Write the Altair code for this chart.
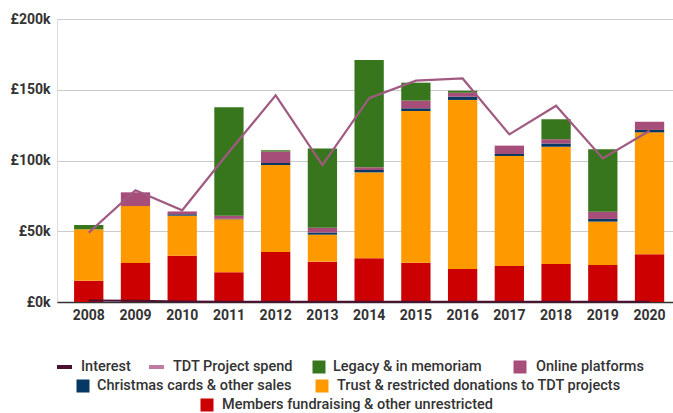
import altair as alt
import pandas as pd

years = [str(y) for y in range(2008, 2021)]

# values in £k
members = [15, 27.6, 32.7, 21, 35.3, 28.5, 30.9, 27.8, 23.3, 25.4, 26.9, 26.1, 33.7]
trust = [36.4, 40.2, 28.3, 37.4, 61.5, 19.1, 60.7, 107.2, 119.5, 77.8, 82.9, 30.7, 86.2]
christmas = [0, 0, 1, 0.5, 1.5, 1.5, 1.7, 1.9, 2.3, 1.4, 2.3, 1.9, 1.7]
online = [0, 9.7, 2, 2, 8, 3.4, 1.9, 5.4, 2.8, 5.9, 2.9, 5.1, 5.8]
legacy = [3, 0, 0, 76.7, 1, 56, 75.8, 12.7, 1.4, 0, 14.1, 44.1, 0]
tdt_spend = [49, 79, 64.8, 106, 146, 96.8, 144, 156.4, 158, 118.5, 138.7, 101.5, 121]
interest = [1, 0.8, 0.3, 0.1, 0.1, 0.1, 0.1, 0.1, 0.1, 0.1, 0.1, 0.1, 0.1]

bar_series = [
    "Members fundraising & other unrestricted",
    "Trust & restricted donations to TDT projects",
    "Christmas cards & other sales",
    "Online platforms",
    "Legacy & in memoriam",
]
bar_colors = ["#cc0000", "#ff9900", "#073763", "#a64d79", "#38761d"]
bar_values = [members, trust, christmas, online, legacy]
line_colors = {"Interest": "#4c1130", "TDT Project spend": "#a05a82"}

rows = []
for i, (name, vals) in enumerate(zip(bar_series, bar_values)):
    for y, v in zip(years, vals):
        rows.append({"year": y, "series": name, "value": v, "order": i})
bars_df = pd.DataFrame(rows)
spend_df = pd.DataFrame({"year": years, "value": tdt_spend})
interest_df = pd.DataFrame({"year": years, "value": interest})

FONT = "Roboto"
TXT = "#333333"

x_axis = alt.Axis(
    title=None, labelAngle=0, ticks=False, domain=True, domainColor="#333333",
    domainWidth=1.5, grid=False, labelFont=FONT, labelFontSize=14,
    labelFontWeight="bold", labelColor=TXT, labelPadding=6,
)
x_scale = alt.Scale(paddingInner=0.373, paddingOuter=0.277, align=0.66)
y_scale = alt.Scale(domain=[0, 200], nice=False)
y_axis = alt.Axis(
    title=None, values=[0, 50, 100, 150, 200], labelExpr="'£' + datum.value + 'k'",
    ticks=False, domain=False, grid=True, gridColor="#cccccc", labelFont=FONT,
    labelFontSize=14, labelFontWeight="bold", labelColor=TXT, labelPadding=7,
)

bars = alt.Chart(bars_df).mark_bar().encode(
    x=alt.X("year:N", scale=x_scale, axis=x_axis),
    y=alt.Y("value:Q", stack="zero", scale=y_scale, axis=y_axis),
    color=alt.Color("series:N", scale=alt.Scale(domain=bar_series, range=bar_colors), legend=None),
    order=alt.Order("order:Q"),
)
spend_line = alt.Chart(spend_df).mark_line(color=line_colors["TDT Project spend"], strokeWidth=2.2).encode(
    x=alt.X("year:N", scale=x_scale, axis=x_axis), y=alt.Y("value:Q", scale=y_scale, axis=y_axis)
)
interest_line = alt.Chart(interest_df).mark_line(color=line_colors["Interest"], strokeWidth=2).encode(
    x=alt.X("year:N", scale=x_scale, axis=x_axis), y=alt.Y("value:Q", scale=y_scale, axis=y_axis)
)
main = alt.layer(bars, spend_line, interest_line)

# legend (positions relative to plot origin)
OX, OY = 57, 19
leg_text = pd.DataFrame([
    {"label": "Interest", "sx": 81 - OX, "sy": 367 - OY},
    {"label": "TDT Project spend", "sx": 173 - OX, "sy": 367 - OY},
    {"label": "Legacy & in memoriam", "sx": 333 - OX, "sy": 367 - OY},
    {"label": "Online platforms", "sx": 536 - OX, "sy": 367 - OY},
    {"label": "Christmas cards & other sales", "sx": 97 - OX, "sy": 386 - OY},
    {"label": "Trust & restricted donations to TDT projects", "sx": 337 - OX, "sy": 386 - OY},
    {"label": "Members fundraising & other unrestricted", "sx": 222 - OX, "sy": 405 - OY},
])
leg_sq = pd.DataFrame([
    {"sx": 319 - OX, "sy": 367 - OY, "c": "#38761d"},
    {"sx": 520 - OX, "sy": 367 - OY, "c": "#a64d79"},
    {"sx": 83 - OX, "sy": 386 - OY, "c": "#073763"},
    {"sx": 322 - OX, "sy": 386 - OY, "c": "#ff9900"},
    {"sx": 207 - OX, "sy": 405 - OY, "c": "#cc0000"},
])
leg_ln = pd.DataFrame([
    {"sx": 57 - OX, "sx2": 72 - OX, "sy": 367 - OY, "c": "#4c1130"},
    {"sx": 149 - OX, "sx2": 164 - OX, "sy": 367 - OY, "c": "#c27ba0"},
])

t = alt.Chart(leg_text).mark_text(
    align="left", baseline="middle", font=FONT, fontSize=14.5, fontWeight=500, color=TXT
).encode(x=alt.X("sx:Q", scale=None, axis=None), y=alt.Y("sy:Q", scale=None, axis=None), text="label:N")
sq = alt.Chart(leg_sq).mark_square(size=169, opacity=1).encode(
    x=alt.X("sx:Q", scale=None, axis=None), y=alt.Y("sy:Q", scale=None, axis=None),
    color=alt.Color("c:N", scale=None),
)
ln = alt.Chart(leg_ln).mark_rule(strokeWidth=4).encode(
    x=alt.X("sx:Q", scale=None, axis=None), x2="sx2:Q", y=alt.Y("sy:Q", scale=None, axis=None),
    color=alt.Color("c:N", scale=None),
)
legend = alt.layer(ln, sq, t)

chart = alt.layer(main, legend).resolve_scale(x="independent", y="independent", color="independent").properties(
    width=616, height=283,
    autosize=alt.AutoSizeParams(type="none"),
    padding={"left": 57, "top": 19, "right": 0, "bottom": 111},
).configure_view(strokeWidth=0, stroke="transparent").configure(background="white")

chart.save("out.html", embed_options={"renderer": "svg", "actions": False})
